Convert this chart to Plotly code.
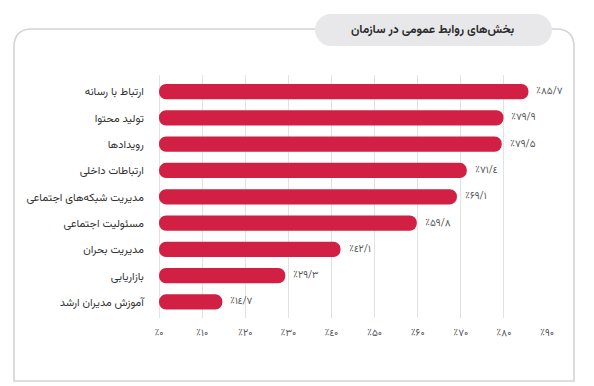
import plotly.graph_objects as go

title = "بخش‌های روابط عمومی در سازمان"
categories = [
    "ارتباط با رسانه",
    "تولید محتوا",
    "رویدادها",
    "ارتباطات داخلی",
    "مدیریت شبکه‌های اجتماعی",
    "مسئولیت اجتماعی",
    "مدیریت بحران",
    "بازاریابی",
    "آموزش مدیران ارشد",
]
values = [85.7, 79.9, 79.5, 71.4, 69.1, 59.8, 42.1, 29.3, 14.7]
tick_values = [0, 10, 20, 30, 40, 50, 60, 70, 80, 90]

DIG = {"0": "۰", "1": "۱", "2": "۲", "3": "۳", "4": "٤", "5": "۵",
       "6": "۶", "7": "۷", "8": "۸", "9": "۹", ".": "/"}


def fa(num):
    s = ("%g" % num)
    return "\u202d٪" + "".join(DIG[c] for c in s) + "\u202c"


# page body has an 8px margin; lay out in window pixels and compensate
O = 8
W, H = 594 - O, 386 - O
L, R, T, B = 159 - O, 547 - O, 75 - O, 318 - O
FONT = "Vazirmatn, Tahoma, 'DejaVu Sans', sans-serif"
BAR = "#d21f44"


def px(x):
    return (x - O - L) / (R - L)


def py(y):
    return (B - (y - O)) / (B - T)


fig = go.Figure()
# floating bars (explicit base) get all corners rounded
fig.add_trace(go.Bar(y=categories, x=values, base=[0] * len(values), orientation="h",
                     marker=dict(color=BAR, cornerradius=8, line=dict(width=0)),
                     width=0.58, hoverinfo="skip", showlegend=False))

annotations = []
for c, v in zip(categories, values):
    annotations.append(dict(x=v, y=c, xref="x", yref="y", text=fa(v),
                            showarrow=False, xanchor="left", xshift=6,
                            font=dict(size=10, color="#555", family=FONT)))

annotations.append(dict(x=px(433), y=py(30), xref="paper", yref="paper",
                        xanchor="center", yanchor="middle",
                        text="<b>" + title + "</b>", showarrow=False,
                        font=dict(size=12, color="#2b2b2b", family=FONT)))

# frame path (window pixel coordinates)
r = 18
fx0, fx1, fy0, fy1 = 14, 574, 29, 381
frame = (f"M {px(315)},{py(fy0)} L {px(fx0 + r)},{py(fy0)} "
         f"Q {px(fx0)},{py(fy0)} {px(fx0)},{py(fy0 + r)} "
         f"L {px(fx0)},{py(fy1)} L {px(fx1)},{py(fy1)} L {px(fx1)},{py(fy0 + r)} "
         f"Q {px(fx1)},{py(fy0)} {px(fx1 - r)},{py(fy0)} L {px(552)},{py(fy0)}")

# title pill
pl, pr, pt, pb = 315, 552, 14, 46
pr_ = 16
k = 0.5523 * pr_
pm = (pt + pb) / 2
pill = (f"M {px(pl + pr_)},{py(pt)} L {px(pr - pr_)},{py(pt)} "
        f"C {px(pr - pr_ + k)},{py(pt)} {px(pr)},{py(pm - k)} {px(pr)},{py(pm)} "
        f"C {px(pr)},{py(pm + k)} {px(pr - pr_ + k)},{py(pb)} {px(pr - pr_)},{py(pb)} "
        f"L {px(pl + pr_)},{py(pb)} "
        f"C {px(pl + pr_ - k)},{py(pb)} {px(pl)},{py(pm + k)} {px(pl)},{py(pm)} "
        f"C {px(pl)},{py(pm - k)} {px(pl + pr_ - k)},{py(pt)} {px(pl + pr_)},{py(pt)} Z")

shapes = [
    dict(type="path", xref="paper", yref="paper", path=frame,
         line=dict(color="#d4d4d4", width=1.6), layer="below"),
    dict(type="path", xref="paper", yref="paper", path=pill,
         fillcolor="#e8e8ea", line=dict(width=0), layer="below"),
]

fig.update_layout(
    width=W, height=H,
    margin=dict(l=L, r=W - R, t=T, b=H - B, autoexpand=False),
    paper_bgcolor="white", plot_bgcolor="rgba(0,0,0,0)",
    bargap=0.42,
    font=dict(family=FONT),
    annotations=annotations, shapes=shapes,
    xaxis=dict(range=[0, 90], tickvals=tick_values,
               ticktext=[fa(t) for t in tick_values],
               showgrid=True, gridcolor="#e2e2e2", gridwidth=1,
               zeroline=True, zerolinecolor="#e2e2e2", zerolinewidth=1,
               showline=False, ticks="outside", ticklen=5,
               tickcolor="rgba(0,0,0,0)",
               tickfont=dict(size=10, color="#555", family=FONT),
               fixedrange=True, automargin=False),
    yaxis=dict(type="category", categoryorder="array", categoryarray=categories,
               range=[8.61, -0.63], showgrid=False, zeroline=False,
               ticks="outside", ticklen=12, tickcolor="rgba(0,0,0,0)",
               tickfont=dict(size=11, color="#333", family=FONT),
               fixedrange=True, automargin=False),
)

fig.write_html("out.html")
